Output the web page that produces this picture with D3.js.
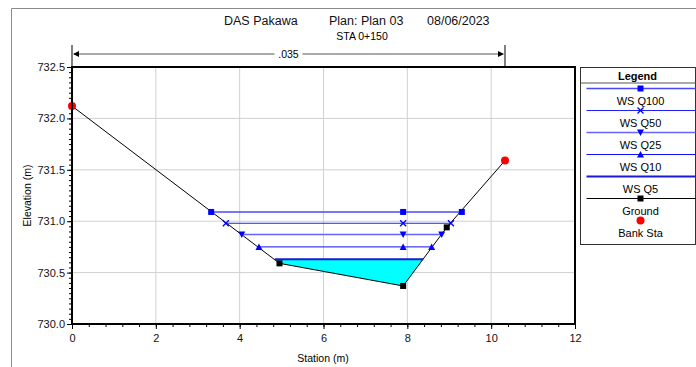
<!DOCTYPE html>
<html>
<head>
<meta charset="utf-8">
<script src="https://cdn.jsdelivr.net/npm/d3@7"></script>
<style>
  body { margin: 0; background: #fff; }
  svg { display: block; font-family: "Liberation Sans", Arial, sans-serif; }
  .grid line { stroke: #d0d0d0; }
</style>
</head>
<body>
<div id="chart"></div>
<script>
// ground profile
const groundSta = [0, 4.95, 7.90, 8.94, 10.33];
const groundElev = [732.12, 730.59, 730.37, 730.94, 731.59];
const groundMarkSta = [4.95, 7.90, 8.94];
const groundMarkElev = [730.59, 730.37, 730.94];

// bank stations
const bankSta = [0, 10.33];
const bankElev = [732.12, 731.59];

// water surfaces
const wsNames = ["WS Q100", "WS Q50", "WS Q25", "WS Q10", "WS Q5"];
const wsElev = [731.09, 730.98, 730.87, 730.75, 730.63];
const wsLeftSta = [3.32, 3.67, 4.05, 4.46, 4.84];
const wsRightSta = [9.30, 9.04, 8.82, 8.58, 8.38];
const wsMidSta = 7.90;
const wsColors = ["#4848ff", "#2020ff", "#6464ff", "#1010ff", "#1a1ad8"];
const wsWidths = [1.5, 1, 1.5, 1, 2];
const wsMarkers = ["square", "cross", "triDown", "triUp", "none"];

const xTicks = [0, 2, 4, 6, 8, 10, 12];
const yTicks = [730.0, 730.5, 731.0, 731.5, 732.0, 732.5];

const W = 696, H = 367;
const margin = {top: 67, left: 72, right: 121, bottom: 43};
const pw = W - margin.left - margin.right;
const ph = H - margin.top - margin.bottom;

const svg = d3.select("#chart").append("svg")
    .attr("width", W)
    .attr("height", H);

svg.append("rect").attr("width", W).attr("height", H).attr("fill", "#fff");

// outer frame
svg.append("path")
    .attr("d", "M11.5," + H + "V8.5H" + W)
    .attr("fill", "none")
    .attr("stroke", "#8a8a8a");

// title
const title = svg.append("text")
    .attr("y", 25)
    .attr("font-size", 12.5)
    .attr("fill", "#111");
title.append("tspan").attr("x", 224).text("DAS Pakawa");
title.append("tspan").attr("x", 329).text("Plan: Plan 03");
title.append("tspan").attr("x", 427).text("08/06/2023");

svg.append("text")
    .attr("x", 362).attr("y", 40)
    .attr("text-anchor", "middle")
    .attr("font-size", 10.5)
    .text("STA 0+150");

const g = svg.append("g")
    .attr("transform", "translate(" + margin.left + "," + margin.top + ")");

const x = d3.scaleLinear().domain([0, 12]).range([0, pw]);
const y = d3.scaleLinear().domain([730, 732.5]).range([ph, 0]);

// grid
g.append("g").attr("class", "grid")
    .selectAll("line").data(xTicks.slice(1, -1)).join("line")
    .attr("x1", d => x(d)).attr("x2", d => x(d))
    .attr("y1", 0).attr("y2", ph);
g.append("g").attr("class", "grid")
    .selectAll("line").data(yTicks.slice(1, -1)).join("line")
    .attr("y1", d => y(d)).attr("y2", d => y(d))
    .attr("x1", 0).attr("x2", pw);

// minor ticks
const xMinor = d3.range(0, 12.001, 0.4);
const yMinor = d3.range(730, 732.501, 0.05);

g.append("g")
    .attr("transform", "translate(0," + ph + ")")
    .call(d3.axisBottom(x).tickValues(xMinor).tickSize(3).tickFormat(""))
    .call(a => a.select(".domain").remove());
g.append("g")
    .call(d3.axisLeft(y).tickValues(yMinor).tickSize(3).tickFormat(""))
    .call(a => a.select(".domain").remove());

const xAxis = g.append("g")
    .attr("transform", "translate(0," + ph + ")")
    .call(d3.axisBottom(x).tickValues(xTicks).tickSize(5).tickPadding(5).tickFormat(d3.format("d")));
xAxis.select(".domain").remove();
xAxis.selectAll("text").attr("font-size", 11).attr("fill", "#111");

const yAxis = g.append("g")
    .call(d3.axisLeft(y).tickValues(yTicks).tickSize(5).tickPadding(2).tickFormat(d3.format(".1f")));
yAxis.select(".domain").remove();
yAxis.selectAll("text").attr("font-size", 11).attr("fill", "#111");

// axis titles
svg.append("text")
    .attr("x", 323).attr("y", 362)
    .attr("text-anchor", "middle")
    .attr("font-size", 10.5)
    .text("Station (m)");
svg.append("text")
    .attr("transform", "translate(31," + (margin.top + ph / 2) + ") rotate(-90)")
    .attr("text-anchor", "middle")
    .attr("font-size", 10.5)
    .text("Elevation (m)");

// n value bar
const nLeft = x(bankSta[0]), nRight = x(bankSta[1]);
const nBar = g.append("g").attr("stroke", "#555").attr("fill", "none");
nBar.append("line").attr("x1", nLeft).attr("x2", nLeft).attr("y1", -22).attr("y2", 0).attr("stroke", "#000");
nBar.append("line").attr("x1", nRight).attr("x2", nRight).attr("y1", -22).attr("y2", 0).attr("stroke", "#000");
nBar.append("line").attr("x1", nLeft + 2).attr("x2", (nLeft + nRight) / 2 - 14).attr("y1", -13).attr("y2", -13);
nBar.append("line").attr("x1", (nLeft + nRight) / 2 + 14).attr("x2", nRight - 2).attr("y1", -13).attr("y2", -13);
g.append("path").attr("d", `M${nLeft + 1},-13l6,-3v6z`).attr("fill", "#000");
g.append("path").attr("d", `M${nRight - 1},-13l-6,-3v6z`).attr("fill", "#000");
g.append("text")
    .attr("x", (nLeft + nRight) / 2).attr("y", -9)
    .attr("text-anchor", "middle")
    .attr("font-size", 10.5)
    .text(".035");

// water fill for lowest profile
const q5 = wsElev.length - 1;
const fillPts = [[wsLeftSta[q5], wsElev[q5]]];
groundSta.forEach((s, i) => {
    if (s > wsLeftSta[q5] && s < wsRightSta[q5]) fillPts.push([s, groundElev[i]]);
});
fillPts.push([wsRightSta[q5], wsElev[q5]]);
g.append("path")
    .attr("d", d3.line().x(d => x(d[0])).y(d => y(d[1]))(fillPts) + "Z")
    .attr("fill", "#00ffff");

// ground line
g.append("path")
    .datum(groundSta.map((s, i) => [s, groundElev[i]]))
    .attr("d", d3.line().x(d => x(d[0])).y(d => y(d[1])))
    .attr("fill", "none")
    .attr("stroke", "#000")
    .attr("stroke-width", 1);

function marker(sel, type, cx, cy, color) {
    if (type === "square") {
        sel.append("rect").attr("x", cx - 3).attr("y", cy - 3).attr("width", 6).attr("height", 6).attr("fill", color);
    } else if (type === "cross") {
        sel.append("path").attr("d", `M${cx - 3},${cy - 3}L${cx + 3},${cy + 3}M${cx - 3},${cy + 3}L${cx + 3},${cy - 3}`)
            .attr("stroke", color).attr("stroke-width", 1.3);
    } else if (type === "triDown") {
        sel.append("path").attr("d", `M${cx - 3.5},${cy - 3}H${cx + 3.5}L${cx},${cy + 3.5}Z`).attr("fill", color);
    } else if (type === "triUp") {
        sel.append("path").attr("d", `M${cx - 3.5},${cy + 3}H${cx + 3.5}L${cx},${cy - 3.5}Z`).attr("fill", color);
    } else if (type === "blacksq") {
        sel.append("rect").attr("x", cx - 3).attr("y", cy - 3).attr("width", 6).attr("height", 6).attr("fill", "#000");
    } else if (type === "circle") {
        sel.append("circle").attr("cx", cx).attr("cy", cy).attr("r", 4).attr("fill", "#ff0000");
    }
}

// water surfaces
wsNames.forEach((name, i) => {
    const ws = g.append("g");
    ws.append("line")
        .attr("x1", x(wsLeftSta[i])).attr("x2", x(wsRightSta[i]))
        .attr("y1", y(wsElev[i])).attr("y2", y(wsElev[i]))
        .attr("stroke", wsColors[i])
        .attr("stroke-width", wsWidths[i]);
    [wsLeftSta[i], wsMidSta, wsRightSta[i]].forEach(s => {
        marker(ws, wsMarkers[i], x(s), y(wsElev[i]), "#0000ff");
    });
});

// ground markers and bank stations
groundMarkSta.forEach((s, i) => marker(g, "blacksq", x(s), y(groundMarkElev[i])));
bankSta.forEach((s, i) => marker(g, "circle", x(s), y(bankElev[i])));

// plot frame
g.append("rect")
    .attr("width", pw).attr("height", ph)
    .attr("fill", "none")
    .attr("stroke", "#000")
    .attr("stroke-width", 2);

// legend
const lg = svg.append("g").attr("transform", "translate(580.5,67.5)");
lg.append("rect").attr("width", 115).attr("height", 177)
    .attr("fill", "#fff").attr("stroke", "#333");
lg.append("text").attr("x", 57).attr("y", 12).attr("text-anchor", "middle")
    .attr("font-size", 11).attr("font-weight", "bold").text("Legend");
lg.append("line").attr("x1", 0).attr("x2", 115).attr("y1", 15.5).attr("y2", 15.5).attr("stroke", "#555");

const legendItems = wsNames.map((n, i) => ({name: n, color: wsColors[i], width: wsWidths[i], marker: wsMarkers[i]}));
legendItems.push({name: "Ground", color: "#000", width: 1, marker: "blacksq"});
legendItems.push({name: "Bank Sta", color: null, width: 0, marker: "circle"});

legendItems.forEach((d, i) => {
    const ly = 21 + i * 22;
    if (d.color) {
        lg.append("line").attr("x1", 6).attr("x2", 115).attr("y1", ly).attr("y2", ly)
            .attr("stroke", d.color).attr("stroke-width", d.width);
    }
    marker(lg, d.marker, 60, ly, "#0000ff");
    lg.append("text").attr("x", 60).attr("y", ly + 16).attr("text-anchor", "middle")
        .attr("font-size", 11).text(d.name);
});
</script>
</body>
</html>
